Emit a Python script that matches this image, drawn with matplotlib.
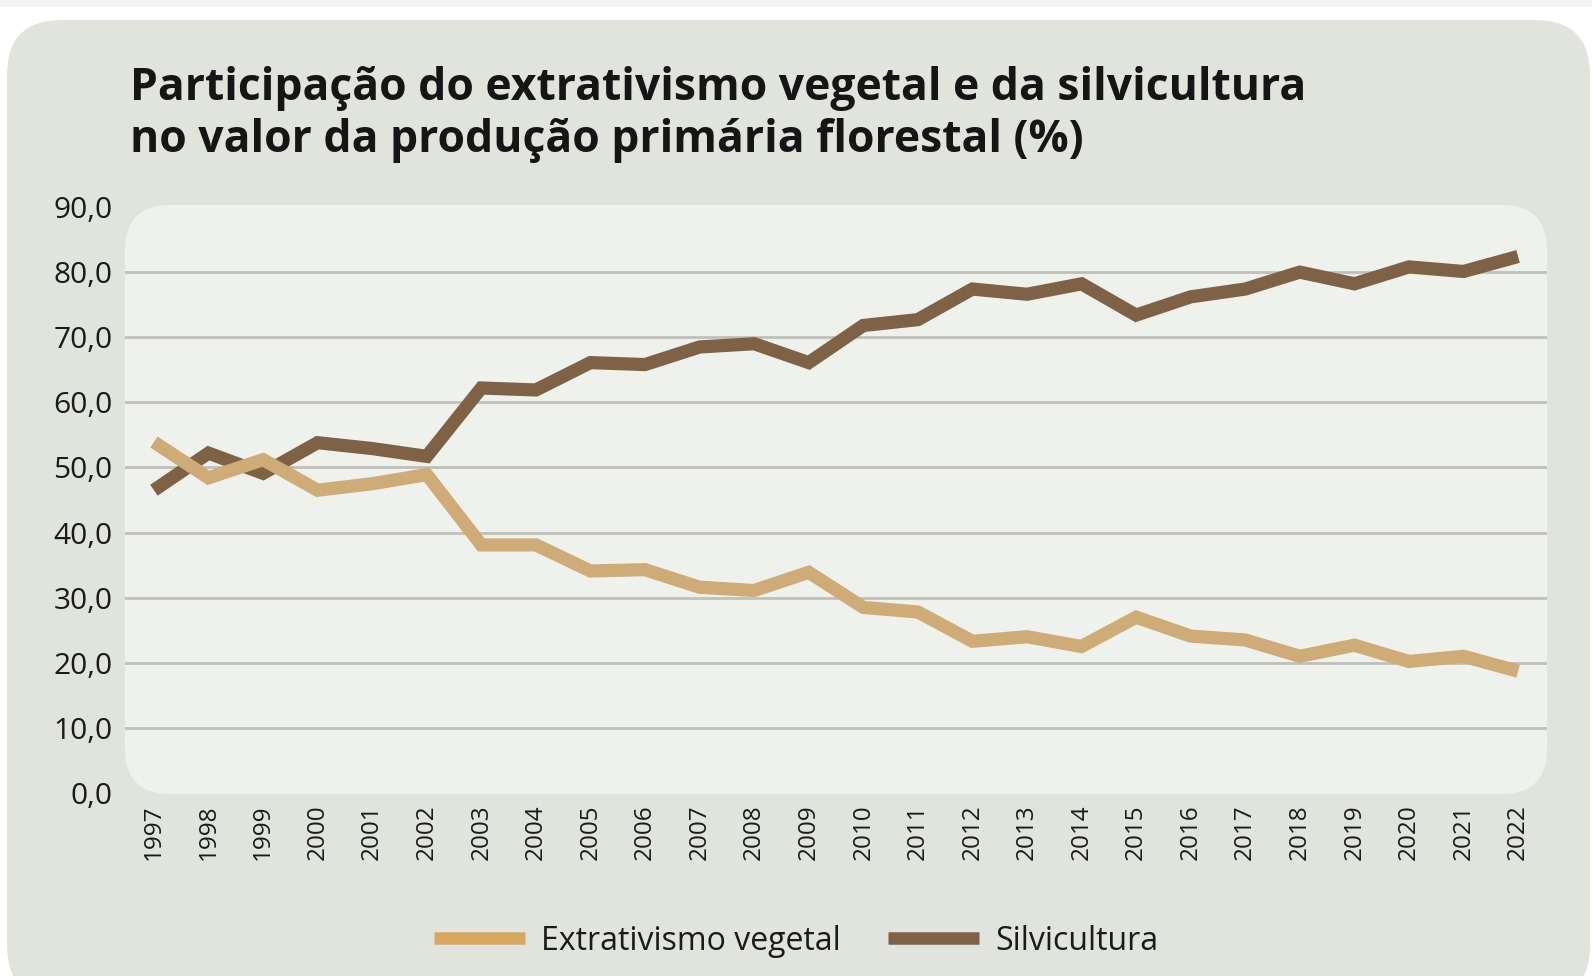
import matplotlib
matplotlib.use('Agg')
import matplotlib.pyplot as plt
from matplotlib.patches import FancyBboxPatch, Rectangle
from matplotlib.lines import Line2D

# Data (%)
years = list(range(1997, 2023))
silvicultura = [46.5, 52.2, 49.1, 53.8, 52.9, 51.7, 62.2, 61.9, 66.1, 65.8, 68.5, 69.0, 66.1,
                71.8, 72.7, 77.4, 76.6, 78.2, 73.4, 76.2, 77.4, 80.0, 78.2, 80.8, 80.1, 82.4]
extrativismo = [53.9, 48.4, 51.2, 46.5, 47.5, 48.9, 38.1, 38.1, 34.1, 34.3, 31.6, 31.1, 33.9,
                28.5, 27.8, 23.3, 24.0, 22.5, 27.0, 24.1, 23.5, 21.0, 22.7, 20.2, 21.0, 18.7]
y_ticks = [0, 10, 20, 30, 40, 50, 60, 70, 80, 90]
series_names = ['Extrativismo vegetal', 'Silvicultura']
title_lines = ['Participação do extrativismo vegetal e da silvicultura',
               'no valor da produção primária florestal (%)']

W, H = 1592, 976
FONT = 'Open Sans'
c_dark = '#7f6146'
c_tan = '#cfab77'
c_tan_leg = '#d8a85f'
c_panel = '#e0e4dc'
c_inner = '#eff1ec'
c_grid = '#bfc0b9'

fig = plt.figure(figsize=(W / 100, H / 100), dpi=100)
fig.patch.set_facecolor('white')

# background axes in pixel coordinates
bg = fig.add_axes([0, 0, 1, 1])
bg.set_xlim(0, W)
bg.set_ylim(H, 0)
bg.axis('off')
bg.add_patch(Rectangle((0, 0), W, 7, color='#f4f4f4', lw=0))
bg.add_patch(FancyBboxPatch((7, 20), 1583, 980, boxstyle='round,pad=0,rounding_size=55',
                            fc=c_panel, ec='none'))
# plot area box
L, T, R, B = 125, 205, 1547, 794
bg.add_patch(FancyBboxPatch((L, T), R - L, B - T, boxstyle='round,pad=0,rounding_size=45',
                            fc=c_inner, ec='none'))

# title
fig.text(130 / W, 1 - 100 / H, title_lines[0], family=FONT, weight='bold', fontsize=32,
         color='#151515', va='baseline', ha='left')
fig.text(130 / W, 1 - 152 / H, title_lines[1], family=FONT, weight='bold', fontsize=32,
         color='#151515', va='baseline', ha='left')

# main axes
ax = fig.add_axes([L / W, 1 - 793 / H, (R - L) / W, (793 - 207) / H])
ax.patch.set_alpha(0)
for s in ax.spines.values():
    s.set_visible(False)
ax.set_xlim(1996.47, 2022.53)
ax.set_ylim(0, 90)

for v in y_ticks[1:-1]:
    ax.axhline(v, color=c_grid, lw=2.0, zorder=1)

ax.plot(years, silvicultura, color=c_dark, lw=9.5, solid_capstyle='butt',
        solid_joinstyle='miter', zorder=3)
ax.plot(years, extrativismo, color=c_tan, lw=9.5, solid_capstyle='butt',
        solid_joinstyle='miter', zorder=4)

ax.set_yticks(y_ticks)
ax.set_yticklabels([f'{v:.1f}'.replace('.', ',') for v in y_ticks], family=FONT,
                   fontsize=21.5, color='#1a1a1a')
ax.set_xticks(years)
ax.set_xticklabels([str(y) for y in years], rotation=90, family=FONT, fontsize=17.5,
                   color='#1a1a1a')
ax.tick_params(axis='y', length=0, pad=9)
ax.tick_params(axis='x', length=0, pad=8)

# legend
handles = [Line2D([0], [0], color=c_tan_leg, lw=9, solid_capstyle='butt'),
           Line2D([0], [0], color=c_dark, lw=9, solid_capstyle='butt')]
fig.legend(handles, series_names, loc='center', bbox_to_anchor=(0.5, 1 - 941 / H), ncol=2,
           frameon=False, prop={'family': FONT, 'size': 23}, handlelength=2.85,
           handletextpad=0.5, columnspacing=1.5, labelcolor='#1a1a1a')

fig.savefig('out.png', dpi=100)
